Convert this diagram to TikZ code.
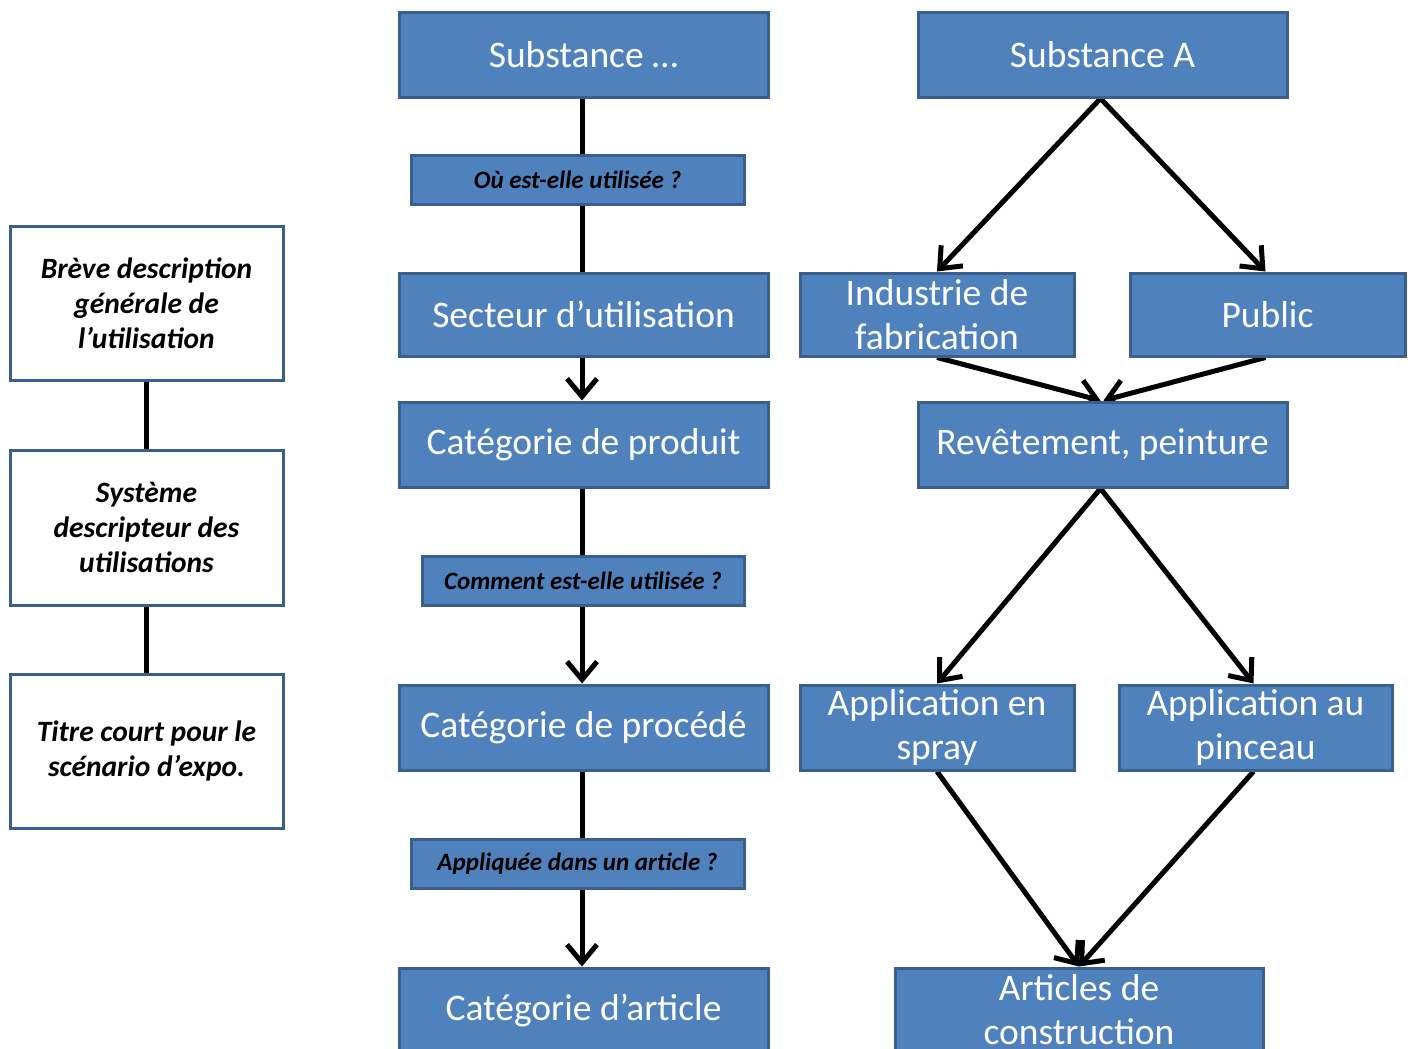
\documentclass[tikz,border=0pt]{standalone}
\usepackage{fontspec}
\setmainfont{Carlito}
\usetikzlibrary{arrows.meta,backgrounds}
\definecolor{boxfill}{HTML}{4F81BD}
\definecolor{boxline}{HTML}{3A5F8E}
\tikzset{
  mainbox/.style={draw=boxline, fill=boxfill, line width=3pt, inner sep=0pt,
    minimum width=369pt, minimum height=84pt, text=white, align=center,
    font=\fontsize{37.5}{44}\selectfont},
  qbox/.style={draw=boxline, fill=boxfill, line width=3pt, inner sep=0pt,
    minimum width=333pt, minimum height=49pt, text=black,
    font=\fontsize{25}{28}\selectfont\bfseries\itshape},
  leftbox/.style={draw=boxline, fill=white, line width=3pt, inner sep=0pt,
    minimum width=273pt, minimum height=154pt, text=black, align=center,
    font=\fontsize{29.5}{35}\selectfont\bfseries\itshape},
  conn/.style={line width=5pt, black},
  arr/.style={conn, -{Straight Barb[length=18pt,width=30pt]}},
}
\begin{document}
\begin{tikzpicture}[x=1pt,y=-1pt]
\useasboundingbox (0,0) rectangle (1411,1049);
% central column
\node[mainbox] (s1) at (583.5,55) {Substance …};
\node[qbox] (q1) at (577.5,179.5) {Où est-elle utilisée ?};
\node[mainbox, minimum height=83pt] (s2) at (583.5,314.5) {Secteur d’utilisation};
\node[mainbox, minimum height=85pt] (s3) at (583.5,444.5) {Catégorie de produit};
\node[qbox, minimum width=322pt] (q2) at (583,580.5) {Comment est-elle utilisée ?};
\node[mainbox, minimum height=85pt] (s4) at (583.5,727.5) {Catégorie de procédé};
\node[qbox] (q3) at (577.5,863.5) {Appliquée dans un article ?};
\node[mainbox] (s5) at (583.5,1010) {Catégorie d’article};
% right column
\node[mainbox] (r1) at (1102.5,55) {Substance A};
\node[mainbox, minimum width=274pt, minimum height=83pt] (r2) at (937,314.5) {Industrie de\\fabrication};
\node[mainbox, minimum width=275pt, minimum height=83pt] (r3) at (1267.5,314.5) {Public};
\node[mainbox, minimum height=85pt] (r4) at (1102.5,444.5) {Revêtement, peinture};
\node[mainbox, minimum width=274pt, minimum height=85pt] (r5) at (937,727.5) {Application en\\spray};
\node[mainbox, minimum width=273pt, minimum height=85pt] (r6) at (1255.5,727.5) {Application au\\pinceau};
\node[mainbox, minimum width=368pt] (r7) at (1079,1010) {Articles de\\construction};
% left column
\node[leftbox] (l1) at (146.5,303) {Brève description\\générale de\\l’utilisation};
\node[leftbox, minimum height=155pt] (l2) at (146.5,527.5) {Système\\descripteur des\\utilisations};
\node[leftbox] (l3) at (146.5,751) {Titre court pour le\\scénario d’expo.};
\begin{pgfonlayer}{background}
\draw[conn] ([xshift=-1.5pt]s1.south) -- ([xshift=-1.5pt]s2.north);
\draw[arr] ([xshift=-1.5pt]s2.south) -- ([xshift=-1.5pt]s3.north);
\draw[arr] ([xshift=-1.5pt]s3.south) -- ([xshift=-1.5pt]s4.north);
\draw[arr] ([xshift=-1.5pt]s4.south) -- ([xshift=-1.5pt]s5.north);
\draw[conn] (l1.south) -- (l2.north);
\draw[conn] (l2.south) -- (l3.north);
\draw[arr] ([xshift=-2pt]r1.south) -- (r2.north);
\draw[arr] ([xshift=-2pt]r1.south) -- ([xshift=-2pt]r3.north);
\draw[arr] (r2.south) -- ([xshift=-2pt]r4.north);
\draw[arr] ([xshift=-2pt]r3.south) -- ([xshift=1pt]r4.north);
\draw[arr] ([xshift=-2pt]r4.south) -- (r5.north);
\draw[arr] ([xshift=-2pt]r4.south) -- ([xshift=-2pt]r6.north);
\draw[arr] (r5.south) -- (r7.north);
\draw[arr] ([xshift=-2pt]r6.south) -- (r7.north);
\end{pgfonlayer}
\end{tikzpicture}
\end{document}
